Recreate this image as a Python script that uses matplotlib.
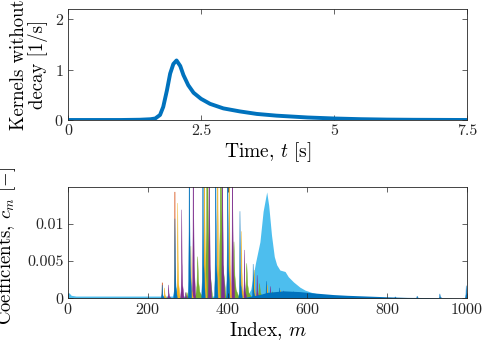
import numpy as np
import matplotlib.pyplot as plt

plt.rcParams['font.family'] = ['cmr10', 'DejaVu Serif']
plt.rcParams['mathtext.fontset'] = 'cm'
plt.rcParams['axes.unicode_minus'] = False
plt.rcParams['axes.formatter.use_mathtext'] = True

# ---- top panel: kernel without decay ----
t = [0, 1.0, 1.35, 1.55, 1.64, 1.73, 1.79, 1.86, 1.92, 1.98, 2.04, 2.11, 2.17,
     2.26, 2.36, 2.5, 2.67, 2.92, 3.23, 3.55, 3.92, 4.5, 5.0, 5.5, 6.0, 6.5, 7.5]
kernel = [0, 0, 0.005, 0.015, 0.03, 0.1, 0.26, 0.59, 0.92, 1.11, 1.18, 1.07, 0.89,
          0.69, 0.54, 0.42, 0.32, 0.23, 0.17, 0.12, 0.086, 0.05, 0.03, 0.016,
          0.008, 0.004, 0.0]

# ---- bottom panel: coefficients c_m ----
# broad light-blue profile
lb_m = [0, 3, 8, 20, 100, 200, 262, 266, 268, 270, 274, 300, 400, 450, 458, 464,
        470, 481, 489, 498, 503, 510, 517, 523, 531, 544, 552, 565, 581, 594, 610,
        633, 670, 720, 780, 850, 1000]
lb_c = [0.0008, 0.0007, 0.0004, 0.0003, 0.0003, 0.0003, 0.0003, 0.0015, 0.005,
        0.0015, 0.0003, 0.0003, 0.0003, 0.0004, 0.0012, 0.003, 0.0048, 0.0076,
        0.0117, 0.0143, 0.0125, 0.0085, 0.0056, 0.0045, 0.0038, 0.0036, 0.0029,
        0.0022, 0.0015, 0.0011, 0.0008, 0.0005, 0.0003, 0.0002, 0.0001, 0.00005, 0]

# dark blue base under the spikes
db_m = [430, 460, 480, 500, 540, 580, 620, 665, 700, 750, 800, 850, 900, 950, 1000]
db_c = [0, 0.0003, 0.0005, 0.0008, 0.001, 0.0009, 0.0007, 0.0005, 0.0004, 0.0003,
        0.0002, 0.00012, 0.0001, 0.00005, 0]

# spike peaks per series (index, height)
blue_m = [236, 268, 304, 338, 370, 400, 431, 464, 497, 530, 565, 598, 820, 875, 932, 998]
blue_c = [0.0018, 0.0107, 0.03, 0.03, 0.03, 0.03, 0.0117, 0.0046, 0.0023, 0.0014,
          0.0009, 0.0006, 0.0002, 0.0003, 0.0006, 0.0017]
orange_m = [236, 268]
orange_c = [0.0021, 0.0143]
yellow_m = [242, 275, 308, 342, 375, 404, 435, 467, 500, 533, 568]
yellow_c = [0.0014, 0.0128, 0.007, 0.03, 0.03, 0.03, 0.009, 0.0038, 0.0018, 0.0011, 0.0007]
purple_m = [252, 285, 295, 314, 354, 387, 412, 442, 474, 507, 540, 573]
purple_c = [0.0018, 0.0119, 0.0008, 0.03, 0.03, 0.03, 0.03, 0.0065, 0.0031, 0.0016,
            0.001, 0.0006]
green_m = [270, 298, 325, 349, 383, 416, 448, 480, 512]
green_c = [0.0004, 0.0008, 0.0056, 0.03, 0.03, 0.0076, 0.0047, 0.002, 0.0009]

# spike shape template (style)
shape_dx = np.array([-1.0, -0.5, -0.2, 0.0, 0.25, 0.6, 1.5])
shape_h = np.array([0.0, 0.08, 0.3, 1.0, 0.4, 0.15, 0.0])


def spikes(ax, ms, cs, color, wl, wr):
    for m, c in zip(ms, cs):
        dx = np.where(shape_dx < 0, shape_dx * wl, shape_dx * wr)
        ax.fill(m + dx, c * shape_h, color=color, lw=0.3, ec=color)


fig = plt.figure(figsize=(4.83, 3.45), dpi=100)
ax1 = fig.add_axes([0.1408, 0.6522, 0.8261, 0.3217])
ax2 = fig.add_axes([0.1408, 0.1354, 0.8261, 0.3234])

ax1.plot(t, kernel, color='#0072BD', lw=2.8)
ax1.set_xlim(0, 7.5)
ax1.set_ylim(0, 2.2)
ax1.set_xticks([0, 2.5, 5, 7.5])
ax1.set_xticklabels(['0', '2.5', '5', '7.5'])
ax1.set_yticks([0, 1, 2])
ax1.set_xlabel('Time, $t$ [s]', fontsize=14, labelpad=2)
ax1.set_ylabel('Kernels without\ndecay [1/s]', fontsize=13.5, linespacing=1.0)
ax1.yaxis.set_label_coords(-0.05, 0.5)

ax2.fill_between(lb_m, lb_c, color='#4DBEEE', lw=0)
spikes(ax2, green_m, green_c, '#77AC30', 9, 9)
spikes(ax2, purple_m, purple_c, '#7E2F8E', 3, 4)
spikes(ax2, yellow_m, yellow_c, '#EDB120', 3, 4)
spikes(ax2, orange_m, orange_c, '#D95319', 2, 2)
ax2.fill_between(db_m, db_c, color='#0072BD', lw=0)
spikes(ax2, blue_m, blue_c, '#0072BD', 3, 4)
ax2.set_xlim(0, 1000)
ax2.set_ylim(0, 0.015)
ax2.set_yticks([0, 0.005, 0.01])
ax2.set_yticklabels(['0', '0.005', '0.01'])
ax2.set_xticks([0, 200, 400, 600, 800, 1000])
ax2.set_xlabel('Index, $m$', fontsize=14, labelpad=2)
ax2.set_ylabel('Coefficients, $c_m$ [$-$]', fontsize=13.5)
ax2.yaxis.set_label_coords(-0.125, 0.47)

for ax in (ax1, ax2):
    ax.tick_params(direction='in', top=True, right=True, length=3.5, width=0.5,
                   labelsize=11.5, colors='0.15', pad=3)
    for s in ax.spines.values():
        s.set_color('0.15')
        s.set_linewidth(0.6)

fig.savefig('out.png', dpi=100)
